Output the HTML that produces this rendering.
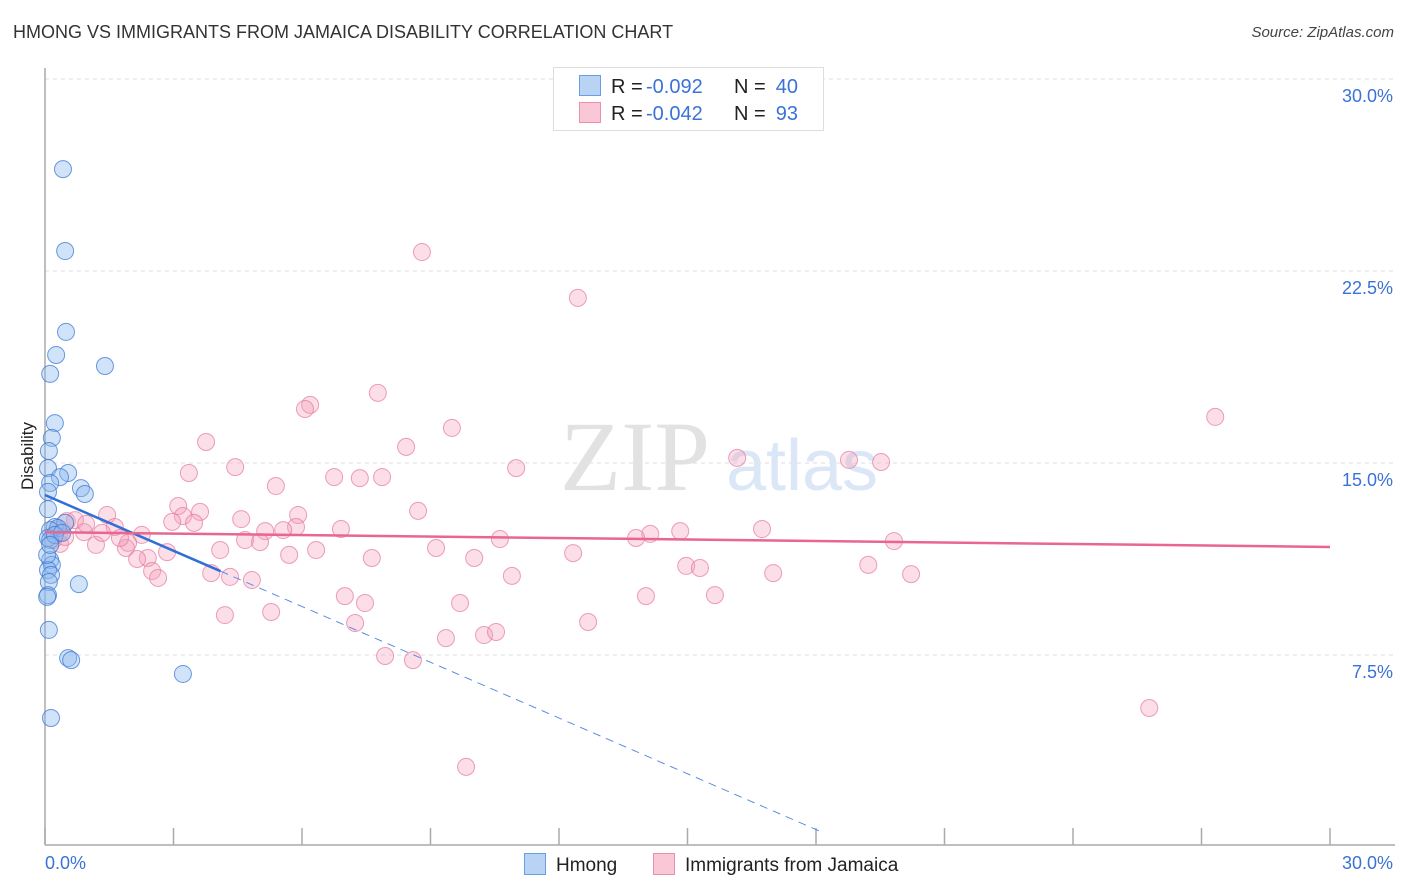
<!DOCTYPE html>
<html><head><meta charset="utf-8"><style>
body{margin:0;background:#fff;font-family:"Liberation Sans",sans-serif;}
#wrap{position:relative;width:1406px;height:892px;overflow:hidden;}
.t{position:absolute;white-space:nowrap;}
</style></head><body>
<div id="wrap">
<div class="t" style="left:13px;top:22px;font-size:18px;color:#333;">HMONG VS IMMIGRANTS FROM JAMAICA DISABILITY CORRELATION CHART</div>
<div class="t" style="right:12px;top:24px;font-size:15px;color:#444;font-style:italic;">Source: ZipAtlas.com</div>
<svg id="plot" width="1406" height="892" style="position:absolute;left:0;top:0"></svg>
</div>
<script>
const hmongX=[0.42,0.47,0.49,0.26,0.12,1.40,0.23,0.16,0.09,0.07,0.54,0.35,0.12,0.84,0.93,0.07,0.07,0.23,0.47,0.30,0.12,0.07,0.12,0.16,0.07,0.14,0.09,0.79,0.07,0.05,0.09,0.54,0.61,3.22,0.14,0.12,0.23,0.05,0.40,0.12];
const hmongY=[26.48,23.28,20.12,19.22,18.48,18.79,16.56,15.98,15.47,14.80,14.61,14.45,14.22,14.02,13.79,13.87,13.20,12.50,12.66,12.46,12.38,12.07,11.21,11.02,10.82,10.63,10.35,10.27,9.84,9.77,8.48,7.38,7.30,6.76,5.04,11.99,12.19,11.41,12.27,11.80];
const jamX=[8.80,12.44,7.77,6.19,6.07,27.32,9.50,3.76,8.43,16.16,18.77,19.52,11.00,4.44,3.36,6.75,7.35,7.87,5.39,3.11,3.62,1.45,3.22,5.91,8.71,4.58,2.97,3.48,0.51,0.70,1.63,5.86,5.56,5.14,2.26,6.91,16.74,14.83,14.13,13.80,19.82,10.62,4.67,5.02,1.94,1.19,0.35,0.19,0.28,0.91,1.89,4.09,6.33,5.70,9.13,2.85,2.40,2.15,12.33,10.02,7.63,2.50,2.64,14.97,15.29,19.22,17.00,20.22,10.90,4.32,3.88,4.83,7.00,7.47,9.69,14.03,15.64,4.20,5.28,7.24,12.68,9.36,10.25,10.53,7.94,8.59,25.78,9.83,0.33,0.47,0.96,1.33,1.75];
const jamY=[23.24,21.45,17.74,17.27,17.11,16.80,16.37,15.82,15.63,15.20,15.12,15.04,14.80,14.84,14.61,14.45,14.41,14.45,14.10,13.32,13.09,12.97,12.93,12.97,13.13,12.81,12.70,12.66,12.73,12.77,12.50,12.50,12.38,12.34,12.19,12.42,12.42,12.34,12.23,12.07,11.95,12.03,11.99,11.91,11.88,11.80,11.84,11.99,12.38,12.30,11.68,11.60,11.60,11.41,11.68,11.52,11.29,11.25,11.48,11.29,11.29,10.78,10.51,10.98,10.90,11.02,10.70,10.66,10.59,10.55,10.70,10.43,9.80,9.53,9.53,9.80,9.84,9.06,9.18,8.75,8.79,8.16,8.28,8.40,7.46,7.30,5.43,3.13,12.27,12.11,12.62,12.27,12.07];
const yTicks=[7.5,15.0,22.5,30.0];
const hmongTrend=[13.75,-0.726]; // intercept, slope
const jamTrend=[12.30,-0.0193];
const legendR=["-0.092","-0.042"], legendN=["40","93"];

const X=v=>45+v*1285/30, Y=v=>847-v*25.6;
const svg=document.getElementById('plot'), NS='http://www.w3.org/2000/svg';
function mk(tag,attrs,name,parent){const e=document.createElementNS(NS,tag);for(const k in attrs)e.setAttribute(k,attrs[k]);


(parent||svg).appendChild(e);return e;}
// grid
yTicks.forEach(v=>{
 mk('line',{x1:45,x2:1395,y1:Y(v),y2:Y(v),stroke:'#ddd','stroke-dasharray':'4,4'},'gridline');
 const t=mk('text',{x:1393,y:Y(v)+23,'text-anchor':'end','font-size':18,fill:'#3a72d8'},'y-tick-label');t.textContent=v.toFixed(1)+'%';
});
// axes
mk('line',{x1:45,x2:45,y1:68,y2:845,stroke:'#aaa','stroke-width':1.5},'y-axis');
mk('line',{x1:45,x2:1395,y1:845,y2:845,stroke:'#aaa','stroke-width':1.5},'x-axis');
for(let i=0;i<=10;i++){mk('line',{x1:X(i*3),x2:X(i*3),y1:828,y2:845,stroke:'#aaa','stroke-width':1.5},'x-tick');}
let t=mk('text',{x:45,y:869,'font-size':18,fill:'#3a72d8'},'x-min-label');t.textContent='0.0%';
t=mk('text',{x:1393,y:869,'font-size':18,fill:'#3a72d8','text-anchor':'end'},'x-max-label');t.textContent='30.0%';
t=mk('text',{x:33,y:456,'font-size':17,fill:'#222','text-anchor':'middle',transform:'rotate(-90 33 456)'},'y-axis-title');t.textContent='Disability';
// watermark
t=mk('text',{x:635,y:490,'font-size':100,fill:'#e2e2e2','text-anchor':'middle','font-family':'Liberation Serif'},'watermark-zip');t.textContent='ZIP';
t=mk('text',{x:802,y:490,'font-size':72,fill:'#dbe6f7','text-anchor':'middle'},'watermark-atlas');t.textContent='atlas';
// points
jamX.forEach((x,i)=>mk('circle',{cx:X(x),cy:Y(jamY[i]),r:8.5,fill:'rgba(244,160,185,0.35)',stroke:'rgba(230,120,155,0.7)','stroke-width':1},'jamaica-point'));
hmongX.forEach((x,i)=>mk('circle',{cx:X(x),cy:Y(hmongY[i]),r:8.5,fill:'rgba(140,185,240,0.4)',stroke:'rgba(60,120,210,0.75)','stroke-width':1},'hmong-point'));
// trends
const hx1=4.1, hx2=-hmongTrend[0]/hmongTrend[1]*0.96;
mk('line',{x1:X(0),y1:Y(hmongTrend[0]),x2:X(hx1),y2:Y(hmongTrend[0]+hmongTrend[1]*hx1),stroke:'#2f6fd6','stroke-width':2.5},'hmong-trend-line');
mk('line',{x1:X(hx1),y1:Y(hmongTrend[0]+hmongTrend[1]*hx1),x2:X(hx2),y2:Y(hmongTrend[0]+hmongTrend[1]*hx2),stroke:'#5a8ee0','stroke-width':1,'stroke-dasharray':'8,6'},'hmong-trend-extension');
mk('line',{x1:X(0),y1:Y(jamTrend[0]),x2:X(30),y2:Y(jamTrend[0]+jamTrend[1]*30),stroke:'#e8668f','stroke-width':2.5},'jamaica-trend-line');
// legend
const lg=mk('g',{},'legend');
mk('rect',{x:553.5,y:67.5,width:270,height:63,fill:'#fff',stroke:'#ddd'},'legend-box',lg);
[['#b9d3f5','#6a9de4'],['#f9c7d6','#eb8fac']].forEach((c,i)=>{
 const y=75+i*27;
 mk('rect',{x:579.5,y:y+0.5,width:21,height:20,fill:c[0],stroke:c[1]},'legend-swatch',lg);
 let a=mk('text',{x:611,y:y+18,'font-size':20,fill:'#222'},'legend-r-label',lg);a.textContent='R =';
 a=mk('text',{x:646,y:y+18,'font-size':20,fill:'#3a72d8'},'legend-r-value',lg);a.textContent=legendR[i];
 a=mk('text',{x:734,y:y+18,'font-size':20,fill:'#222'},'legend-n-label',lg);a.textContent='N =';
 a=mk('text',{x:798,y:y+18,'font-size':20,fill:'#3a72d8','text-anchor':'end'},'legend-n-value',lg);a.textContent=legendN[i];
});
// bottom legend
[['#b9d3f5','#6a9de4','Hmong',524],['#f9c7d6','#eb8fac','Immigrants from Jamaica',653]].forEach(c=>{
 mk('rect',{x:c[3]+0.5,y:853.5,width:21,height:21,fill:c[0],stroke:c[1]},'bottom-legend-swatch');
 const a=mk('text',{x:c[3]+32,y:871,'font-size':19,fill:'#222'},'bottom-legend-label');a.textContent=c[2];
});
</script>
</body></html>
